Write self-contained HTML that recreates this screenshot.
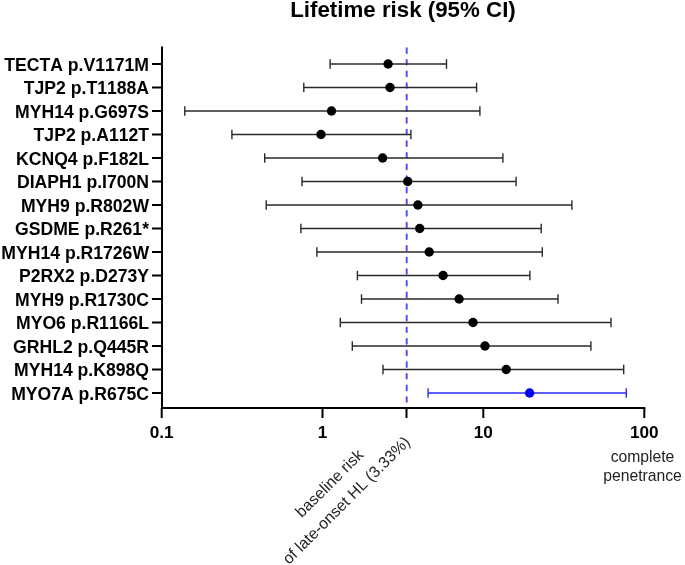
<!DOCTYPE html><html><head><meta charset="utf-8"><style>html,body{margin:0;padding:0;background:#fff;}svg{display:block;}text{font-family:"Liberation Sans",sans-serif;font-kerning:none;}.t{filter:grayscale(1);}</style></head><body>
<svg width="685" height="565" viewBox="0 0 685 565">
<rect width="685" height="565" fill="#fff"/>
<text class="t" x="403" y="17" font-size="22.3" font-weight="bold" text-anchor="middle" fill="#000">Lifetime risk (95% CI)</text>
<line x1="406.7" y1="48.3" x2="406.7" y2="403" stroke="#5050ff" stroke-width="2" stroke-dasharray="4.6 7.03" stroke-linecap="round"/>
<text class="t" x="149.0" y="70.50" font-size="17.6" font-weight="bold" text-anchor="end" fill="#000">TECTA p.V1171M</text>
<line x1="152.0" y1="64.0" x2="162.0" y2="64.0" stroke="#000" stroke-width="2"/>
<line x1="330.1" y1="64.0" x2="446.5" y2="64.0" stroke="#2a2a2a" stroke-width="1.4"/>
<line x1="330.1" y1="59.2" x2="330.1" y2="68.8" stroke="#2a2a2a" stroke-width="1.4"/>
<line x1="446.5" y1="59.2" x2="446.5" y2="68.8" stroke="#2a2a2a" stroke-width="1.4"/>
<circle cx="388.1" cy="64.0" r="4.7" fill="#000"/>
<text class="t" x="149.0" y="94.00" font-size="17.6" font-weight="bold" text-anchor="end" fill="#000">TJP2 p.T1188A</text>
<line x1="152.0" y1="87.5" x2="162.0" y2="87.5" stroke="#000" stroke-width="2"/>
<line x1="303.8" y1="87.5" x2="476.6" y2="87.5" stroke="#2a2a2a" stroke-width="1.4"/>
<line x1="303.8" y1="82.7" x2="303.8" y2="92.3" stroke="#2a2a2a" stroke-width="1.4"/>
<line x1="476.6" y1="82.7" x2="476.6" y2="92.3" stroke="#2a2a2a" stroke-width="1.4"/>
<circle cx="390.0" cy="87.5" r="4.7" fill="#000"/>
<text class="t" x="149.0" y="117.50" font-size="17.6" font-weight="bold" text-anchor="end" fill="#000">MYH14 p.G697S</text>
<line x1="152.0" y1="111.0" x2="162.0" y2="111.0" stroke="#000" stroke-width="2"/>
<line x1="184.8" y1="111.0" x2="479.9" y2="111.0" stroke="#2a2a2a" stroke-width="1.4"/>
<line x1="184.8" y1="106.2" x2="184.8" y2="115.8" stroke="#2a2a2a" stroke-width="1.4"/>
<line x1="479.9" y1="106.2" x2="479.9" y2="115.8" stroke="#2a2a2a" stroke-width="1.4"/>
<circle cx="331.5" cy="111.0" r="4.7" fill="#000"/>
<text class="t" x="149.0" y="141.00" font-size="17.6" font-weight="bold" text-anchor="end" fill="#000">TJP2 p.A112T</text>
<line x1="152.0" y1="134.5" x2="162.0" y2="134.5" stroke="#000" stroke-width="2"/>
<line x1="231.9" y1="134.5" x2="410.9" y2="134.5" stroke="#2a2a2a" stroke-width="1.4"/>
<line x1="231.9" y1="129.7" x2="231.9" y2="139.3" stroke="#2a2a2a" stroke-width="1.4"/>
<line x1="410.9" y1="129.7" x2="410.9" y2="139.3" stroke="#2a2a2a" stroke-width="1.4"/>
<circle cx="321.0" cy="134.5" r="4.7" fill="#000"/>
<text class="t" x="149.0" y="164.50" font-size="17.6" font-weight="bold" text-anchor="end" fill="#000">KCNQ4 p.F182L</text>
<line x1="152.0" y1="158.0" x2="162.0" y2="158.0" stroke="#000" stroke-width="2"/>
<line x1="264.7" y1="158.0" x2="502.9" y2="158.0" stroke="#2a2a2a" stroke-width="1.4"/>
<line x1="264.7" y1="153.2" x2="264.7" y2="162.8" stroke="#2a2a2a" stroke-width="1.4"/>
<line x1="502.9" y1="153.2" x2="502.9" y2="162.8" stroke="#2a2a2a" stroke-width="1.4"/>
<circle cx="382.6" cy="158.0" r="4.7" fill="#000"/>
<text class="t" x="149.0" y="188.00" font-size="17.6" font-weight="bold" text-anchor="end" fill="#000">DIAPH1 p.I700N</text>
<line x1="152.0" y1="181.5" x2="162.0" y2="181.5" stroke="#000" stroke-width="2"/>
<line x1="302.0" y1="181.5" x2="516.1" y2="181.5" stroke="#2a2a2a" stroke-width="1.4"/>
<line x1="302.0" y1="176.7" x2="302.0" y2="186.3" stroke="#2a2a2a" stroke-width="1.4"/>
<line x1="516.1" y1="176.7" x2="516.1" y2="186.3" stroke="#2a2a2a" stroke-width="1.4"/>
<circle cx="407.7" cy="181.5" r="4.7" fill="#000"/>
<text class="t" x="149.0" y="211.50" font-size="17.6" font-weight="bold" text-anchor="end" fill="#000">MYH9 p.R802W</text>
<line x1="152.0" y1="205.0" x2="162.0" y2="205.0" stroke="#000" stroke-width="2"/>
<line x1="266.2" y1="205.0" x2="571.9" y2="205.0" stroke="#2a2a2a" stroke-width="1.4"/>
<line x1="266.2" y1="200.2" x2="266.2" y2="209.8" stroke="#2a2a2a" stroke-width="1.4"/>
<line x1="571.9" y1="200.2" x2="571.9" y2="209.8" stroke="#2a2a2a" stroke-width="1.4"/>
<circle cx="417.9" cy="205.0" r="4.7" fill="#000"/>
<text class="t" x="149.0" y="235.00" font-size="17.6" font-weight="bold" text-anchor="end" fill="#000">GSDME p.R261*</text>
<line x1="152.0" y1="228.5" x2="162.0" y2="228.5" stroke="#000" stroke-width="2"/>
<line x1="300.9" y1="228.5" x2="541.2" y2="228.5" stroke="#2a2a2a" stroke-width="1.4"/>
<line x1="300.9" y1="223.7" x2="300.9" y2="233.3" stroke="#2a2a2a" stroke-width="1.4"/>
<line x1="541.2" y1="223.7" x2="541.2" y2="233.3" stroke="#2a2a2a" stroke-width="1.4"/>
<circle cx="419.7" cy="228.5" r="4.7" fill="#000"/>
<text class="t" x="149.0" y="258.50" font-size="17.6" font-weight="bold" text-anchor="end" fill="#000">MYH14 p.R1726W</text>
<line x1="152.0" y1="252.0" x2="162.0" y2="252.0" stroke="#000" stroke-width="2"/>
<line x1="316.9" y1="252.0" x2="542.3" y2="252.0" stroke="#2a2a2a" stroke-width="1.4"/>
<line x1="316.9" y1="247.2" x2="316.9" y2="256.8" stroke="#2a2a2a" stroke-width="1.4"/>
<line x1="542.3" y1="247.2" x2="542.3" y2="256.8" stroke="#2a2a2a" stroke-width="1.4"/>
<circle cx="429.2" cy="252.0" r="4.7" fill="#000"/>
<text class="t" x="149.0" y="282.00" font-size="17.6" font-weight="bold" text-anchor="end" fill="#000">P2RX2 p.D273Y</text>
<line x1="152.0" y1="275.5" x2="162.0" y2="275.5" stroke="#000" stroke-width="2"/>
<line x1="357.4" y1="275.5" x2="529.9" y2="275.5" stroke="#2a2a2a" stroke-width="1.4"/>
<line x1="357.4" y1="270.7" x2="357.4" y2="280.3" stroke="#2a2a2a" stroke-width="1.4"/>
<line x1="529.9" y1="270.7" x2="529.9" y2="280.3" stroke="#2a2a2a" stroke-width="1.4"/>
<circle cx="443.1" cy="275.5" r="4.7" fill="#000"/>
<text class="t" x="149.0" y="305.50" font-size="17.6" font-weight="bold" text-anchor="end" fill="#000">MYH9 p.R1730C</text>
<line x1="152.0" y1="299.0" x2="162.0" y2="299.0" stroke="#000" stroke-width="2"/>
<line x1="361.5" y1="299.0" x2="558.0" y2="299.0" stroke="#2a2a2a" stroke-width="1.4"/>
<line x1="361.5" y1="294.2" x2="361.5" y2="303.8" stroke="#2a2a2a" stroke-width="1.4"/>
<line x1="558.0" y1="294.2" x2="558.0" y2="303.8" stroke="#2a2a2a" stroke-width="1.4"/>
<circle cx="459.1" cy="299.0" r="4.7" fill="#000"/>
<text class="t" x="149.0" y="329.00" font-size="17.6" font-weight="bold" text-anchor="end" fill="#000">MYO6 p.R1166L</text>
<line x1="152.0" y1="322.5" x2="162.0" y2="322.5" stroke="#000" stroke-width="2"/>
<line x1="340.3" y1="322.5" x2="611.0" y2="322.5" stroke="#2a2a2a" stroke-width="1.4"/>
<line x1="340.3" y1="317.7" x2="340.3" y2="327.3" stroke="#2a2a2a" stroke-width="1.4"/>
<line x1="611.0" y1="317.7" x2="611.0" y2="327.3" stroke="#2a2a2a" stroke-width="1.4"/>
<circle cx="473.0" cy="322.5" r="4.7" fill="#000"/>
<text class="t" x="149.0" y="352.50" font-size="17.6" font-weight="bold" text-anchor="end" fill="#000">GRHL2 p.Q445R</text>
<line x1="152.0" y1="346.0" x2="162.0" y2="346.0" stroke="#000" stroke-width="2"/>
<line x1="352.3" y1="346.0" x2="590.9" y2="346.0" stroke="#2a2a2a" stroke-width="1.4"/>
<line x1="352.3" y1="341.2" x2="352.3" y2="350.8" stroke="#2a2a2a" stroke-width="1.4"/>
<line x1="590.9" y1="341.2" x2="590.9" y2="350.8" stroke="#2a2a2a" stroke-width="1.4"/>
<circle cx="485.0" cy="346.0" r="4.7" fill="#000"/>
<text class="t" x="149.0" y="376.00" font-size="17.6" font-weight="bold" text-anchor="end" fill="#000">MYH14 p.K898Q</text>
<line x1="152.0" y1="369.5" x2="162.0" y2="369.5" stroke="#000" stroke-width="2"/>
<line x1="383.0" y1="369.5" x2="623.7" y2="369.5" stroke="#2a2a2a" stroke-width="1.4"/>
<line x1="383.0" y1="364.7" x2="383.0" y2="374.3" stroke="#2a2a2a" stroke-width="1.4"/>
<line x1="623.7" y1="364.7" x2="623.7" y2="374.3" stroke="#2a2a2a" stroke-width="1.4"/>
<circle cx="506.2" cy="369.5" r="4.7" fill="#000"/>
<text class="t" x="149.0" y="399.50" font-size="17.6" font-weight="bold" text-anchor="end" fill="#000">MYO7A p.R675C</text>
<line x1="152.0" y1="393.0" x2="162.0" y2="393.0" stroke="#000" stroke-width="2"/>
<line x1="428.1" y1="393.0" x2="626.3" y2="393.0" stroke="#2828ff" stroke-width="1.4"/>
<line x1="428.1" y1="388.2" x2="428.1" y2="397.8" stroke="#2828ff" stroke-width="1.4"/>
<line x1="626.3" y1="388.2" x2="626.3" y2="397.8" stroke="#2828ff" stroke-width="1.4"/>
<circle cx="529.6" cy="393.0" r="4.7" fill="#0000f5"/>
<line x1="162.0" y1="46.5" x2="162.0" y2="409.0" stroke="#000" stroke-width="2"/>
<line x1="161.0" y1="408.0" x2="645.3" y2="408.0" stroke="#000" stroke-width="2"/>
<line x1="161.7" y1="408.0" x2="161.7" y2="418" stroke="#000" stroke-width="2"/>
<line x1="322.5" y1="408.0" x2="322.5" y2="418" stroke="#000" stroke-width="2"/>
<line x1="406.5" y1="408.0" x2="406.5" y2="418" stroke="#000" stroke-width="2"/>
<line x1="483.3" y1="408.0" x2="483.3" y2="418" stroke="#000" stroke-width="2"/>
<line x1="644.3" y1="408.0" x2="644.3" y2="418" stroke="#000" stroke-width="2"/>
<text class="t" x="161.7" y="438" font-size="17.2" font-weight="bold" text-anchor="middle" fill="#000">0.1</text>
<text class="t" x="322.5" y="438" font-size="17.2" font-weight="bold" text-anchor="middle" fill="#000">1</text>
<text class="t" x="483.3" y="438" font-size="17.2" font-weight="bold" text-anchor="middle" fill="#000">10</text>
<text class="t" x="644.3" y="438" font-size="17.2" font-weight="bold" text-anchor="middle" fill="#000">100</text>
<text class="t" x="642.5" y="462.3" font-size="15.7" text-anchor="middle" fill="#222">complete</text>
<text class="t" x="642.5" y="480.7" font-size="15.7" text-anchor="middle" fill="#222">penetrance</text>
<g transform="translate(338,492) rotate(-45)">
<text class="t" x="0" y="-7" font-size="15.9" text-anchor="middle" fill="#222">baseline risk</text>
<text class="t" x="0" y="17" font-size="15.9" text-anchor="middle" fill="#222">of late-onset HL (3.33%)</text>
</g>
</svg></body></html>
